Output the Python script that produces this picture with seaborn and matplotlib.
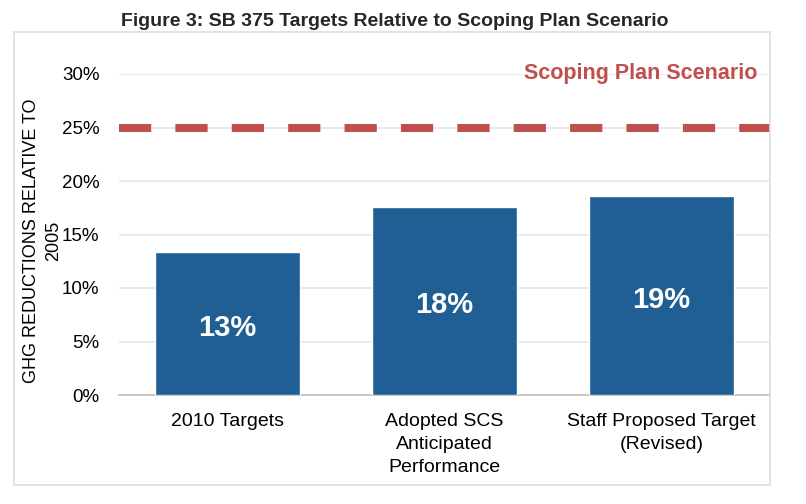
import matplotlib
matplotlib.use("Agg")
import matplotlib.pyplot as plt
import seaborn as sns
import pandas as pd
from matplotlib.patches import Rectangle
from matplotlib.ticker import FuncFormatter

categories = ["2010 Targets", "Adopted SCS\nAnticipated\nPerformance", "Staff Proposed Target\n(Revised)"]
values = [0.134, 0.176, 0.186]
bar_labels = ["13%", "18%", "19%"]
scoping_value = 0.25
scoping_label = "Scoping Plan Scenario"
yticks = [0, 0.05, 0.10, 0.15, 0.20, 0.25, 0.30]

sns.set_theme(style="white")
plt.rcParams['font.family'] = ['Liberation Sans', 'DejaVu Sans']

df = pd.DataFrame({"category": categories, "value": values})

fig = plt.figure(figsize=(8.06, 5.04), dpi=100)
fig.patch.set_facecolor("white")
ax = fig.add_axes([119/806, 1-395/504, (770-119)/806, (395-74)/504])

# outer frame
fig.patches.append(Rectangle((14/806, 1-485/504), (770-14)/806, (485-32)/504,
                             transform=fig.transFigure, fill=False,
                             edgecolor="#dddddd", linewidth=1.2, zorder=0))

sns.barplot(data=df, x="category", y="value", color="#1f5f93", saturation=1,
            width=0.67, ax=ax, zorder=3)

ax.set_ylim(0, 0.30)
ax.set_xlim(-0.5, 2.5)
ax.set_yticks(yticks)
ax.yaxis.set_major_formatter(FuncFormatter(lambda v, p: f"{v*100:.0f}%"))
ax.grid(axis="y", color="#e8e8e8", linewidth=1.3, zorder=0)
ax.set_axisbelow(True)
for s in ["top", "right", "left"]:
    ax.spines[s].set_visible(False)
ax.spines["bottom"].set_color("#bfbfbf")
ax.spines["bottom"].set_linewidth(1.2)
ax.tick_params(axis="y", length=0, pad=14, labelsize=13.5, colors="black")
ax.tick_params(axis="x", length=0, pad=13, labelsize=14, colors="black")
for t in ax.get_xticklabels():
    t.set_linespacing(1.45)
ax.set_xlabel("")
ax.set_ylabel("GHG REDUCTIONS RELATIVE TO\n2005", fontsize=13, color="black",
              linespacing=1.45)
ax.yaxis.set_label_coords(-0.087, 0.48)

ax.axhline(scoping_value, color="#c0504d", linewidth=5.8,
           linestyle=(0, (4, 3)), zorder=4)
ax.text(1.905, 0.30, scoping_label, color="#c0504d", fontsize=15.5,
        fontweight="bold", ha="center", va="center", zorder=5)

for i, (v, lab) in enumerate(zip(values, bar_labels)):
    ax.text(i, v/2 - 0.004, lab, color="white", fontsize=21, fontweight="bold",
            ha="center", va="center", zorder=5)

fig.text(0.49, 0.958, "Figure 3: SB 375 Targets Relative to Scoping Plan Scenario",
         ha="center", va="center", fontsize=14, fontweight="bold")

fig.savefig("out.png", dpi=100)
